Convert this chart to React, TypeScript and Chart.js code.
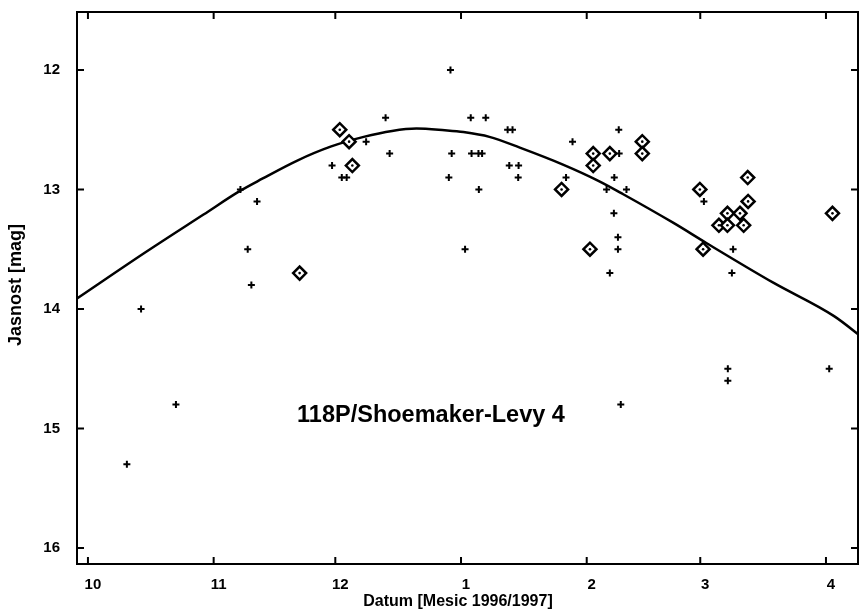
import React, { useEffect, useRef } from "react";
import { Chart, registerables } from "chart.js";

Chart.register(...registerables);

// Days counted from 1 Oct 1996
const monthTickDays = [0, 31, 61, 92, 123, 151, 182];
const monthTickLabels = ["10", "11", "12", "1", "2", "3", "4"];
const magTicks = [12, 13, 14, 15, 16];

const crossDays = [
  60.2, 62.6, 63.8, 37.6, 41.7, 39.4, 40.3, 13.1, 21.7, 9.6,
  89.4, 73.4, 94.4, 98.1, 103.5, 104.7, 68.6, 119.5, 74.4, 89.7,
  94.6, 96.3, 97.2, 103.9, 106.2, 89.0, 106.1, 117.9, 96.4, 93.0,
  130.9, 131.0, 129.8, 127.9, 132.8, 129.7, 130.7, 130.7, 128.7, 151.9,
  159.1, 158.8, 157.8, 157.8, 182.8, 131.4,
];
const crossMags = [
  12.8, 12.9, 12.9, 13.0, 13.1, 13.5, 13.8, 14.0, 14.8, 15.3,
  12.0, 12.4, 12.4, 12.4, 12.5, 12.5, 12.6, 12.6, 12.7, 12.7,
  12.7, 12.7, 12.7, 12.8, 12.8, 12.9, 12.9, 12.9, 13.0, 13.5,
  12.5, 12.7, 12.9, 13.0, 13.0, 13.2, 13.4, 13.5, 13.7, 13.1,
  13.5, 13.7, 14.5, 14.6, 14.5, 14.8,
];

const diamondDays = [
  62.1, 64.4, 65.2, 52.2, 116.8, 123.8, 124.6, 124.6, 128.7, 136.7,
  136.7, 150.9, 151.7, 162.7, 162.8, 157.7, 160.8, 155.6, 157.7, 161.7,
  183.6,
];
const diamondMags = [
  12.5, 12.6, 12.8, 13.7, 13.0, 13.5, 12.7, 12.8, 12.7, 12.6,
  12.7, 13.0, 13.5, 12.9, 13.1, 13.2, 13.2, 13.3, 13.3, 13.3,
  13.2,
];

const curveDays = [
  -3, 14, 28.5, 37.6, 43, 51.5, 60, 68, 75, 81, 88, 92.6, 99, 106.5, 117,
  126, 132, 144.4, 152.6, 169, 184, 191,
];
const curveMags = [
  13.92, 13.53, 13.21, 13.01, 12.91, 12.76, 12.64, 12.56, 12.51, 12.49,
  12.505, 12.52, 12.56, 12.65, 12.79, 12.93, 13.04, 13.28, 13.45, 13.78,
  14.06, 14.24,
];

const cometName = "118P/Shoemaker-Levy 4";
const xTitle = "Datum [Mesic 1996/1997]";
const yTitle = "Jasnost [mag]";

const FONT = "'Liberation Sans', Arial, Helvetica, sans-serif";

const framePlugin = {
  id: "framePlugin",
  afterDraw(chart: any) {
    const { ctx, chartArea } = chart;
    const { left, right, top, bottom } = chartArea;
    const xs = chart.scales.x;
    const ys = chart.scales.y;
    ctx.save();
    ctx.strokeStyle = "#000";
    ctx.lineWidth = 2;
    ctx.strokeRect(left, top, right - left, bottom - top);
    const tl = 7;
    ctx.beginPath();
    monthTickDays.forEach((d) => {
      const px = xs.getPixelForValue(d);
      ctx.moveTo(px, bottom);
      ctx.lineTo(px, bottom - tl);
      ctx.moveTo(px, top);
      ctx.lineTo(px, top + tl);
    });
    magTicks.forEach((m) => {
      const py = ys.getPixelForValue(m);
      ctx.moveTo(left, py);
      ctx.lineTo(left + tl, py);
      ctx.moveTo(right, py);
      ctx.lineTo(right - tl, py);
    });
    ctx.stroke();

    ctx.fillStyle = "#000";
    ctx.textAlign = "center";
    ctx.textBaseline = "middle";
    ctx.font = `bold 23.5px ${FONT}`;
    ctx.fillText(cometName, xs.getPixelForValue(84.6), ys.getPixelForValue(14.89));

    ctx.font = `bold 16px ${FONT}`;
    ctx.fillText(xTitle, 458, 602);

    ctx.translate(16, 285);
    ctx.rotate(-Math.PI / 2);
    ctx.font = `bold 18px ${FONT}`;
    ctx.fillText(yTitle, 0, 0);
    ctx.restore();
  },
};

export default function App() {
  const ref = useRef<HTMLCanvasElement | null>(null);

  useEffect(() => {
    document.body.style.margin = "0";
    const canvas = ref.current;
    if (!canvas) return;
    const chart = new Chart(canvas, {
      type: "scatter",
      data: {
        datasets: [
          {
            label: "centers",
            data: diamondDays.map((d, i) => ({ x: d, y: diamondMags[i] })),
            pointStyle: "circle",
            pointRadius: 1.3,
            backgroundColor: "#000",
            borderWidth: 0,
            order: 0,
          },
          {
            label: "diamonds",
            data: diamondDays.map((d, i) => ({ x: d, y: diamondMags[i] })),
            pointStyle: "rectRot",
            pointRadius: 6.5,
            borderWidth: 2.5,
            borderColor: "#000",
            backgroundColor: "#fff",
            order: 1,
          },
          {
            label: "crosses",
            data: crossDays.map((d, i) => ({ x: d, y: crossMags[i] })),
            pointStyle: "cross",
            pointRadius: 3.5,
            borderWidth: 2,
            borderColor: "#000",
            order: 2,
          },
          {
            type: "line",
            label: "curve",
            data: curveDays.map((d, i) => ({ x: d, y: curveMags[i] })),
            borderColor: "#000",
            borderWidth: 2.5,
            pointRadius: 0,
            cubicInterpolationMode: "monotone",
            fill: false,
            showLine: true,
            order: 3,
          } as any,
        ],
      },
      options: {
        responsive: false,
        animation: false,
        events: [],
        layout: { autoPadding: false, padding: { top: 12, right: 1, left: 0, bottom: 0 } },
        plugins: {
          legend: { display: false },
          tooltip: { enabled: false },
          title: { display: false },
        },
        scales: {
          x: {
            type: "linear",
            min: -2.7,
            max: 189.9,
            grid: { display: false },
            border: { display: false },
            afterBuildTicks: (scale: any) => {
              scale.ticks = monthTickDays.map((v) => ({ value: v }));
            },
            afterFit: (scale: any) => {
              scale.height = 47;
              scale.paddingLeft = 0;
              scale.paddingRight = 0;
              scale.paddingTop = 0;
              scale.paddingBottom = 0;
            },
            ticks: {
              autoSkip: false,
              maxRotation: 0,
              padding: 4,
              labelOffset: 5,
              color: "#000",
              font: { family: FONT, size: 15, weight: "bold" },
              callback: (v: any) => {
                const i = monthTickDays.indexOf(Number(v));
                return i >= 0 ? monthTickLabels[i] : "";
              },
            },
          },
          y: {
            type: "linear",
            reverse: true,
            min: 11.515,
            max: 16.134,
            grid: { display: false },
            border: { display: false },
            afterBuildTicks: (scale: any) => {
              scale.ticks = magTicks.map((v) => ({ value: v }));
            },
            afterFit: (scale: any) => {
              scale.width = 77;
              scale.paddingLeft = 0;
              scale.paddingRight = 0;
              scale.paddingTop = 0;
              scale.paddingBottom = 0;
            },
            ticks: {
              autoSkip: false,
              padding: 9,
              color: "#000",
              font: { family: FONT, size: 15, weight: "bold" },
              callback: (v: any) => String(v),
            },
          },
        },
      },
      plugins: [framePlugin],
    } as any);
    return () => chart.destroy();
  }, []);

  return (
    <div style={{ width: 859, height: 611, background: "#fff" }}>
      <canvas ref={ref} width={859} height={611} style={{ display: "block" }} />
    </div>
  );
}
